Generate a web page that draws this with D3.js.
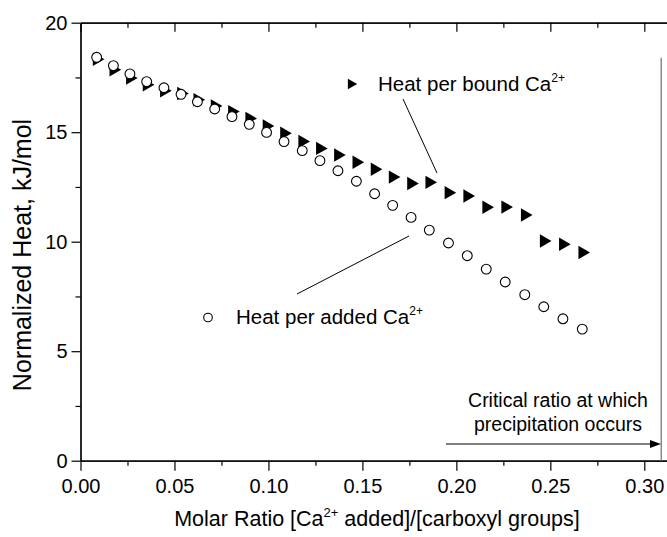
<!DOCTYPE html>
<html>
<head>
<meta charset="utf-8">
<script src="https://cdn.jsdelivr.net/npm/d3@7"></script>
<style>
  body { margin: 0; background: #fff; }
  svg { display: block; font-family: "Liberation Sans", Arial, sans-serif; }
</style>
</head>
<body>
<svg id="chart" width="667" height="537"></svg>
<script>
// molar ratio [Ca2+ added]/[carboxyl groups]
var molarRatio = [0.0086, 0.0175, 0.0263, 0.0352, 0.0444, 0.0535, 0.0622, 0.0714, 0.0806, 0.0898,
                  0.0990, 0.1083, 0.1180, 0.1274, 0.1370, 0.1468, 0.1565, 0.1661, 0.1759, 0.1856,
                  0.1958, 0.2058, 0.2159, 0.2260, 0.2364, 0.2465, 0.2567, 0.2670];
// heat per added Ca2+ (open circles), kJ/mol
var heatPerAdded = [18.42, 18.04, 17.66, 17.31, 17.03, 16.73, 16.39, 16.06, 15.71, 15.36,
                    14.99, 14.57, 14.16, 13.70, 13.24, 12.76, 12.19, 11.66, 11.11, 10.53,
                    9.94, 9.36, 8.75, 8.16, 7.58, 7.03, 6.48, 6.01];
// heat per bound Ca2+ (filled triangles), kJ/mol
var heatPerBound = [18.33, 17.85, 17.47, 17.17, 16.89, 16.77, 16.48, 16.20, 15.94, 15.63,
                    15.28, 14.95, 14.58, 14.26, 13.96, 13.63, 13.31, 12.95, 12.66, 12.71,
                    12.24, 12.09, 11.57, 11.58, 11.22, 10.03, 9.88, 9.51];

var xMajorTicks = [0, 0.05, 0.10, 0.15, 0.20, 0.25, 0.30];
var xMinorTicks = [0.025, 0.075, 0.125, 0.175, 0.225, 0.275];
var yMajorTicks = [0, 5, 10, 15, 20];
var yMinorTicks = [2.5, 7.5, 12.5, 17.5];
var criticalRatio = 0.309;
var criticalTop = 18.4;

var svg = d3.select("#chart");

var x = d3.scaleLinear().domain([0, 0.3125]).range([80.5, 667.8]);
var y = d3.scaleLinear().domain([0, 20]).range([460.7, 22.7]);

var fmtX = d3.format(".2f");

// 軸
function styleAxis(g) {
  g.attr("font-family", null).attr("font-size", null);
  g.selectAll("path, line").attr("stroke", "#000").attr("stroke-width", 1.2);
  g.selectAll("text").attr("fill", "#000").style("font-size", "20px");
}

svg.append("g").attr("transform", "translate(0," + y(0) + ")")
  .call(d3.axisBottom(x).tickValues(xMinorTicks).tickSize(5).tickSizeOuter(0).tickFormat(""))
  .call(styleAxis);
svg.append("g").attr("transform", "translate(0," + y(0) + ")")
  .call(d3.axisBottom(x).tickValues(xMajorTicks).tickSize(10).tickSizeOuter(0).tickPadding(8).tickFormat(fmtX))
  .call(styleAxis);

svg.append("g").attr("transform", "translate(0," + y(20) + ")")
  .call(d3.axisBottom(x).tickValues(xMinorTicks).tickSize(5).tickSizeOuter(0).tickFormat(""))
  .call(styleAxis);
svg.append("g").attr("transform", "translate(0," + y(20) + ")")
  .call(d3.axisBottom(x).tickValues(xMajorTicks).tickSize(9).tickSizeOuter(0).tickFormat(""))
  .call(styleAxis);

svg.append("g").attr("transform", "translate(" + x(0) + ",0)")
  .call(d3.axisLeft(y).tickValues(yMinorTicks).tickSize(5).tickSizeOuter(0).tickFormat(""))
  .call(styleAxis);
svg.append("g").attr("transform", "translate(" + x(0) + ",0)")
  .call(d3.axisLeft(y).tickValues(yMajorTicks).tickSize(9).tickSizeOuter(0).tickPadding(4).tickFormat(d3.format("d")))
  .call(styleAxis);

svg.append("g").attr("transform", "translate(" + x(0.3125) + ",0)")
  .call(d3.axisLeft(y).tickValues(yMajorTicks).tickSize(-6).tickSizeOuter(0).tickFormat(""))
  .call(styleAxis);

// 軸タイトル
var xt = svg.append("text")
  .attr("x", 377).attr("y", 526)
  .attr("text-anchor", "middle")
  .style("font-size", "21.5px");
xt.append("tspan").text("Molar Ratio [Ca");
xt.append("tspan").attr("dy", -9).style("font-size", "13px").text("2+");
xt.append("tspan").attr("dy", 9).text(" added]/[carboxyl groups]");

svg.append("text")
  .attr("transform", "translate(31,255) rotate(-90)")
  .attr("text-anchor", "middle")
  .style("font-size", "25px")
  .text("Normalized Heat, kJ/mol");

// 臨界比の縦線
svg.append("line")
  .attr("x1", x(criticalRatio)).attr("x2", x(criticalRatio))
  .attr("y1", y(criticalTop)).attr("y2", y(0))
  .attr("stroke", "#7a7a7a").attr("stroke-width", 1.3);

// データ点
var points = molarRatio.map(function(r, i) {
  return {r: r, added: heatPerAdded[i], bound: heatPerBound[i]};
});

var tri = d3.symbol().type(d3.symbolTriangle).size(78);

svg.append("g").selectAll("path")
  .data(points)
  .enter().append("path")
    .attr("d", tri)
    .attr("transform", function(d) { return "translate(" + x(d.r) + "," + y(d.bound) + ") rotate(90)"; })
    .attr("fill", "#000");

svg.append("g").selectAll("circle")
  .data(points)
  .enter().append("circle")
    .attr("cx", function(d) { return x(d.r); })
    .attr("cy", function(d) { return y(d.added); })
    .attr("r", 4.9)
    .attr("fill", "#fff")
    .attr("stroke", "#000")
    .attr("stroke-width", 1.1);

// 注釈
svg.append("path")
  .attr("d", d3.symbol().type(d3.symbolTriangle).size(50))
  .attr("transform", "translate(351,84) rotate(90)")
  .attr("fill", "#000");
var t1 = svg.append("text").attr("x", 378).attr("y", 91).style("font-size", "20.5px");
t1.append("tspan").text("Heat per bound Ca");
t1.append("tspan").attr("dy", -9).style("font-size", "12px").text("2+");

svg.append("circle").attr("cx", 208).attr("cy", 317.5).attr("r", 4.3)
  .attr("fill", "#fff").attr("stroke", "#000").attr("stroke-width", 1.1);
var t2 = svg.append("text").attr("x", 236).attr("y", 324).style("font-size", "20.5px");
t2.append("tspan").text("Heat per added Ca");
t2.append("tspan").attr("dy", -9).style("font-size", "12px").text("2+");

svg.append("line").attr("x1", 403).attr("y1", 99).attr("x2", 437).attr("y2", 173)
  .attr("stroke", "#000").attr("stroke-width", 1);
svg.append("line").attr("x1", 297).attr("y1", 294).attr("x2", 409).attr("y2", 236)
  .attr("stroke", "#000").attr("stroke-width", 1);

svg.append("text").attr("x", 558).attr("y", 407).attr("text-anchor", "middle")
  .style("font-size", "19.5px").text("Critical ratio at which");
svg.append("text").attr("x", 558).attr("y", 431).attr("text-anchor", "middle")
  .style("font-size", "19.5px").text("precipitation occurs");

svg.append("line").attr("x1", 446).attr("y1", 444).attr("x2", 650).attr("y2", 444)
  .attr("stroke", "#000").attr("stroke-width", 1.1);
svg.append("path")
  .attr("d", "M650,440 L661,444 L650,448 Z")
  .attr("fill", "#000");
</script>
</body>
</html>
